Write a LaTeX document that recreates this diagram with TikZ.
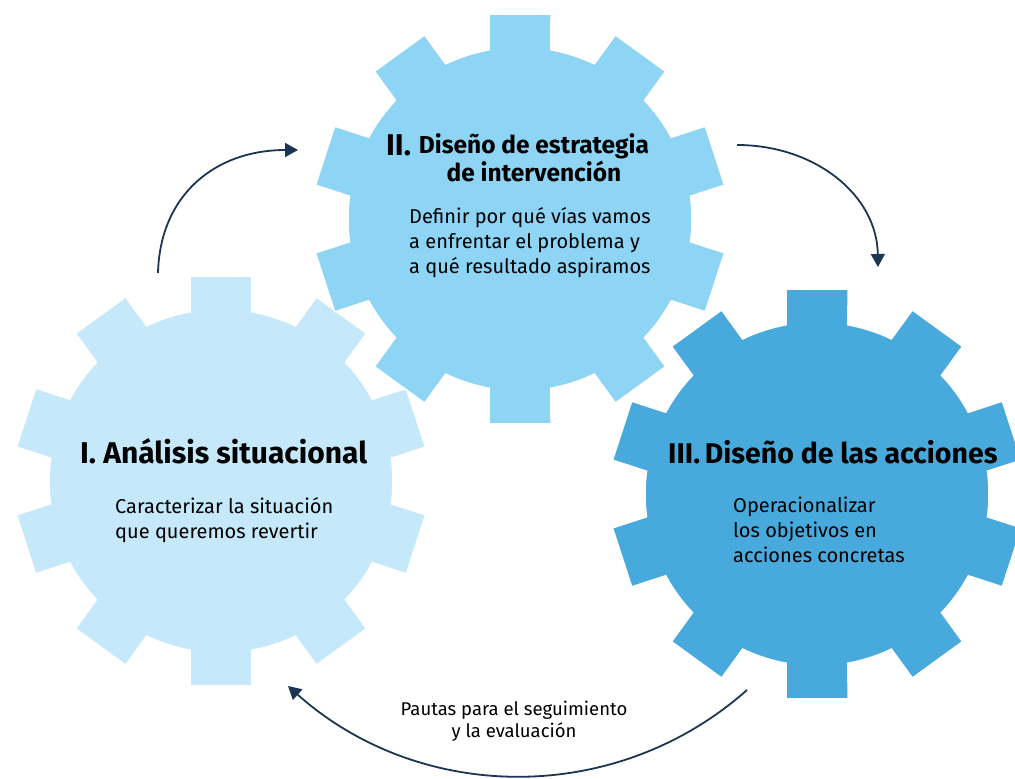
\documentclass[tikz,border=0pt]{standalone}
\usepackage{fontspec}
\setmainfont{Fira Sans}
\usetikzlibrary{arrows.meta}
\definecolor{gearA}{HTML}{C5E9FB}
\definecolor{gearB}{HTML}{8DD4F5}
\definecolor{gearC}{HTML}{48AADC}
\definecolor{navy}{HTML}{1C3552}
\tikzset{
  gearfill/.style={fill=#1, draw=white, line width=1.5pt},
  titletext/.style={font=\fontsize{30}{34}\selectfont\bfseries, inner sep=0pt, text=black},
  subtitle/.style={font=\fontsize{24.5}{28}\selectfont\bfseries, inner sep=0pt, align=center, text=black},
  bodytext/.style={font=\fontsize{20}{25}\selectfont, inner sep=0pt, align=left, text=black},
  smalltext/.style={font=\fontsize{18.5}{22}\selectfont, inner sep=0pt, align=center, text=black},
  arr/.style={draw=navy, line width=1.8pt, -{Triangle[length=13pt,width=14pt]}},
}
\newcommand{\gearat}[3]{%
  \begin{scope}[shift={(#1,#2)}]
    \path[gearfill=#3] (79.62:172pt)
      \foreach \a in {90,126,...,414}{
        -- (\a-10.38:172pt) -- (\a-8.6:207.3pt) -- (\a+8.6:207.3pt) -- (\a+10.38:172pt)
        arc[start angle=\a+10.38, end angle=\a+25.62, radius=172pt]
      } -- cycle;
  \end{scope}}
\begin{document}
\begin{tikzpicture}[x=1pt,y=-1pt]
\useasboundingbox (0,0) rectangle (1015,779);
% gears
\gearat{221}{481}{gearA}
\gearat{520}{219}{gearB}
\gearat{817}{494}{gearC}
% gear I text
\node[titletext, anchor=base west] (t1) at (80,463) {I. Análisis situacional};
\node[bodytext, anchor=base west] (b1) at (115,538) {Caracterizar la situación\\que queremos revertir};
% gear II text
\node[titletext, anchor=base west] (t2n) at (386,155) {II.};
\node[subtitle, anchor=base] (t2) at (534,181) {Diseño de estrategia\\de intervención};
\node[bodytext, anchor=base west] (b2) at (409,273) {Definir por qué vías vamos\\a enfrentar el problema y\\a qué resultado aspiramos};
% gear III text
\node[titletext, font=\fontsize{28.5}{34}\selectfont\bfseries, anchor=base west] (t3) at (668,463) {III.\,Diseño de las acciones};
\node[bodytext, anchor=base west] (b3) at (733,562) {Operacionalizar\\los objetivos en\\acciones concretas};
% bottom label
\node[smalltext, anchor=base] (lab) at (514,737) {Pautas para el seguimiento\\y la evaluación};
% arrows
\coordinate (a1s) at (158,273);
\coordinate (a1e) at (298,150);
\coordinate (a2s) at (737,145);
\coordinate (a2e) at (878,267);
\coordinate (a3s) at (747,690);
\coordinate (a3e) at (288,686);
\draw[arr] (a1s) .. controls (160,195) and (215,150) .. (a1e);
\draw[arr] (a2s) .. controls (815,145) and (877,195) .. (a2e);
\draw[arr] (a3s) .. controls (615,807) and (419,803) .. (a3e);
\end{tikzpicture}
\end{document}
